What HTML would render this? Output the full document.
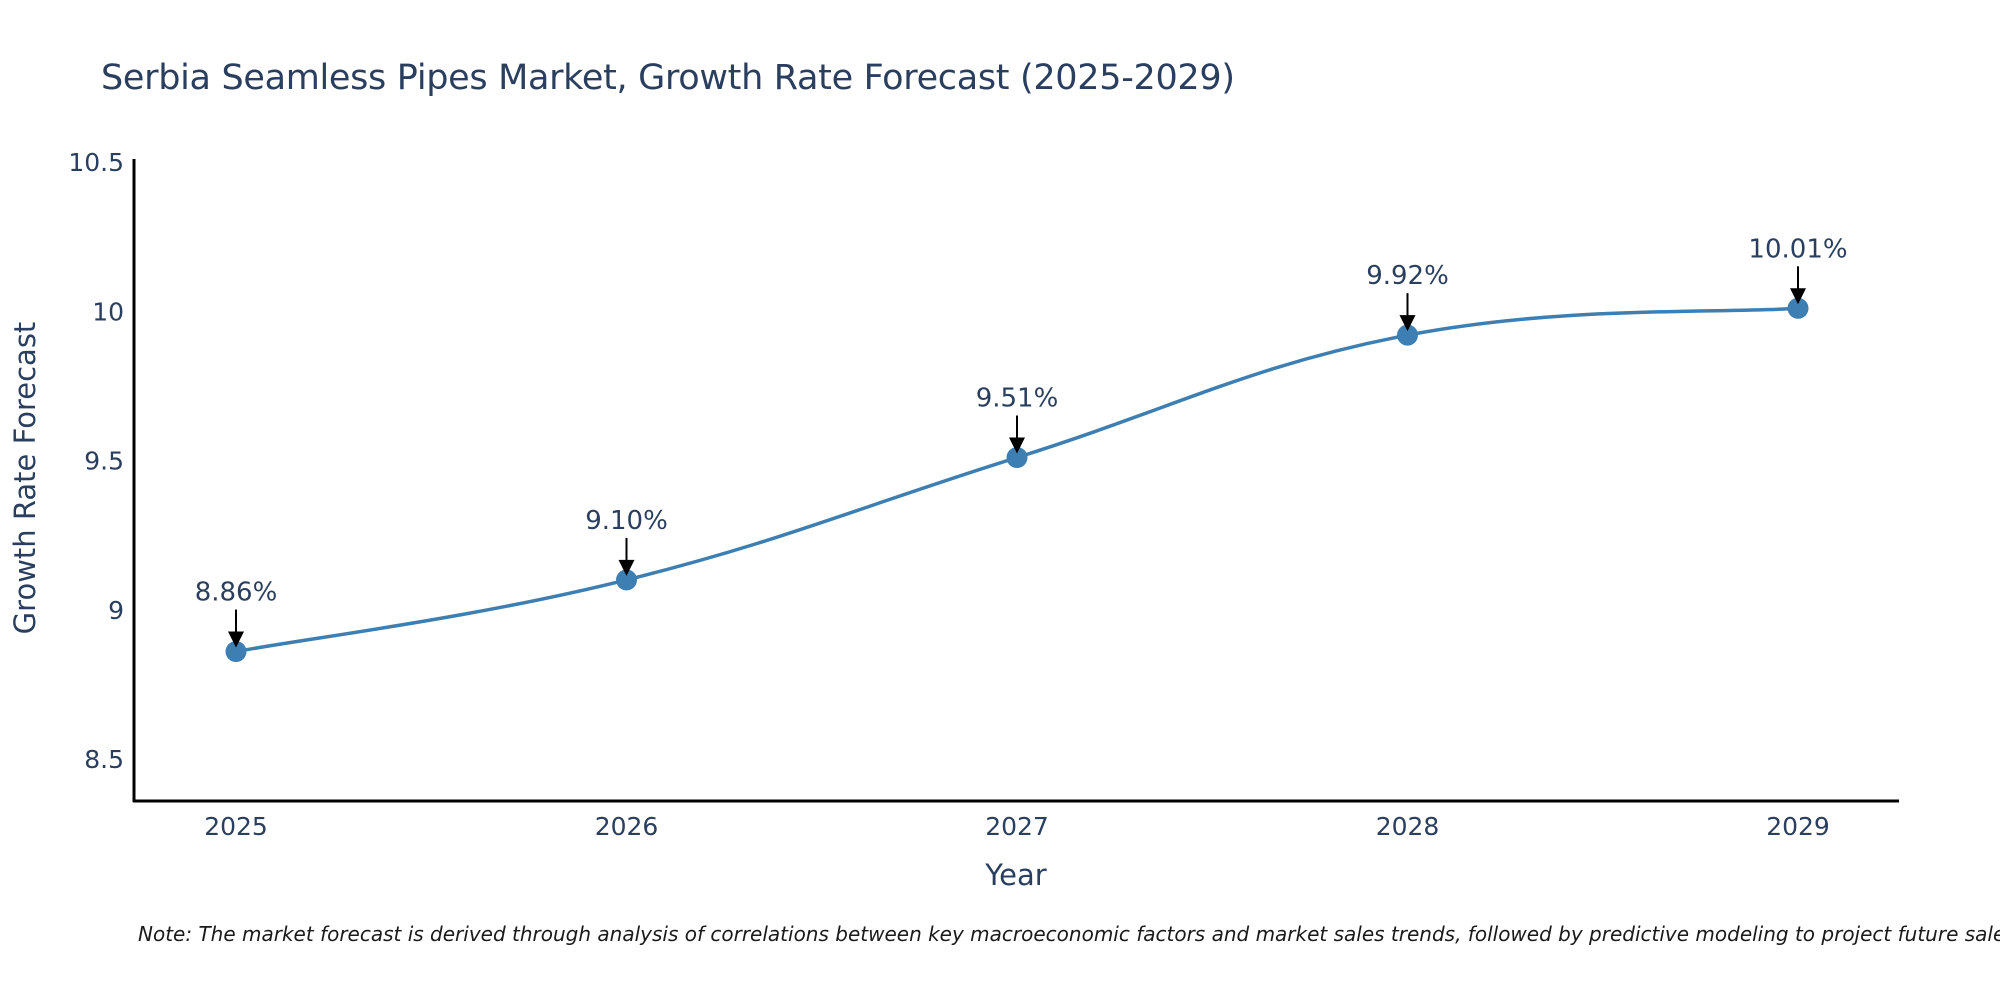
<!DOCTYPE html>
<html><head><meta charset="utf-8"><style>
html,body{margin:0;padding:0;background:#fff;}
svg{display:block;font-family:"DejaVu Sans","Liberation Sans",sans-serif;}
</style></head><body>
<svg id="chart" width="2000" height="1000" viewBox="0 0 2000 1000">
<text x="101" y="89" font-size="35" fill="#2a3f5f" textLength="1134">Serbia Seamless Pipes Market, Growth Rate Forecast (2025-2029)</text>
<g id="yticks"></g>
<g id="xticks"></g>
<line x1="134" y1="159" x2="134" y2="802" stroke="#000" stroke-width="3"/>
<line x1="133" y1="801" x2="1899" y2="801" stroke="#000" stroke-width="3"/>
<path id="line" fill="none" stroke="#3d7fb2" stroke-width="3.5"/>
<g id="points"></g>
<g id="labels"></g>
<text x="1016" y="885" font-size="29" fill="#2a3f5f" text-anchor="middle">Year</text>
<text transform="translate(35,478) rotate(-90)" font-size="29" fill="#2a3f5f" text-anchor="middle">Growth Rate Forecast</text>
<text x="138" y="941" font-size="20" font-style="italic" fill="#1a1a1a">Note: The market forecast is derived through analysis of correlations between key macroeconomic factors and market sales trends, followed by predictive modeling to project future sales.</text>
</svg>
<script>
const years = [2025, 2026, 2027, 2028, 2029];
const values = [8.86, 9.10, 9.51, 9.92, 10.01];
const yTickValues = [8.5, 9, 9.5, 10, 10.5];
const yTickLabels = ["8.5", "9", "9.5", "10", "10.5"];

const NS = "http://www.w3.org/2000/svg";
function xScale(v){ return 236 + (v - 2025) * (1798 - 236) / 4; }
function yScale(v){ return 759 - (v - 8.5) * (759 - 162) / 2; }
function mk(tag, attrs, parent){ const e = document.createElementNS(NS, tag); for (const k in attrs) e.setAttribute(k, attrs[k]); parent.appendChild(e); return e; }

const yt = document.getElementById('yticks');
yTickValues.forEach((v, i) => {
  const t = mk('text', {x: 124, y: yScale(v) + 9, 'font-size': 25, fill: '#2a3f5f', 'text-anchor': 'end'}, yt);
  
  
  t.textContent = yTickLabels[i];
});
const xt = document.getElementById('xticks');
years.forEach(y => {
  const t = mk('text', {x: xScale(y), y: 835, 'font-size': 25, fill: '#2a3f5f', 'text-anchor': 'middle'}, xt);
  
  
  t.textContent = String(y);
});

const pts = years.map((y, i) => [xScale(y), yScale(values[i])]);
let d = `M${pts[0][0]},${pts[0][1]}`;
const s = 0.2;
for (let i = 0; i < pts.length - 1; i++) {
  const p0 = pts[Math.max(i - 1, 0)], p1 = pts[i], p2 = pts[i + 1], p3 = pts[Math.min(i + 2, pts.length - 1)];
  const c1 = [p1[0] + (p2[0] - p0[0]) * s, p1[1] + (p2[1] - p0[1]) * s];
  const c2 = [p2[0] - (p3[0] - p1[0]) * s, p2[1] - (p3[1] - p1[1]) * s];
  d += ` C${c1[0]},${c1[1]} ${c2[0]},${c2[1]} ${p2[0]},${p2[1]}`;
}
document.getElementById('line').setAttribute('d', d);

const pg = document.getElementById('points');
const lg = document.getElementById('labels');
pts.forEach((p, i) => {
  const c = mk('circle', {cx: p[0], cy: p[1], r: 10.5, fill: '#3d7fb2'}, pg);
  
  
  const l = mk('line', {x1: p[0], y1: p[1] - 42, x2: p[0], y2: p[1] - 16, stroke: '#000', 'stroke-width': 2}, lg);
  
  
  const a = mk('polygon', {points: `${p[0]-8},${p[1]-20} ${p[0]+8},${p[1]-20} ${p[0]},${p[1]-4}`, fill: '#000'}, lg);
  
  
  const t = mk('text', {x: p[0], y: p[1] - 51, 'font-size': 26, fill: '#2a3f5f', 'text-anchor': 'middle'}, lg);
  
  
  t.textContent = values[i].toFixed(2) + '%';
});
</script>
</body></html>
